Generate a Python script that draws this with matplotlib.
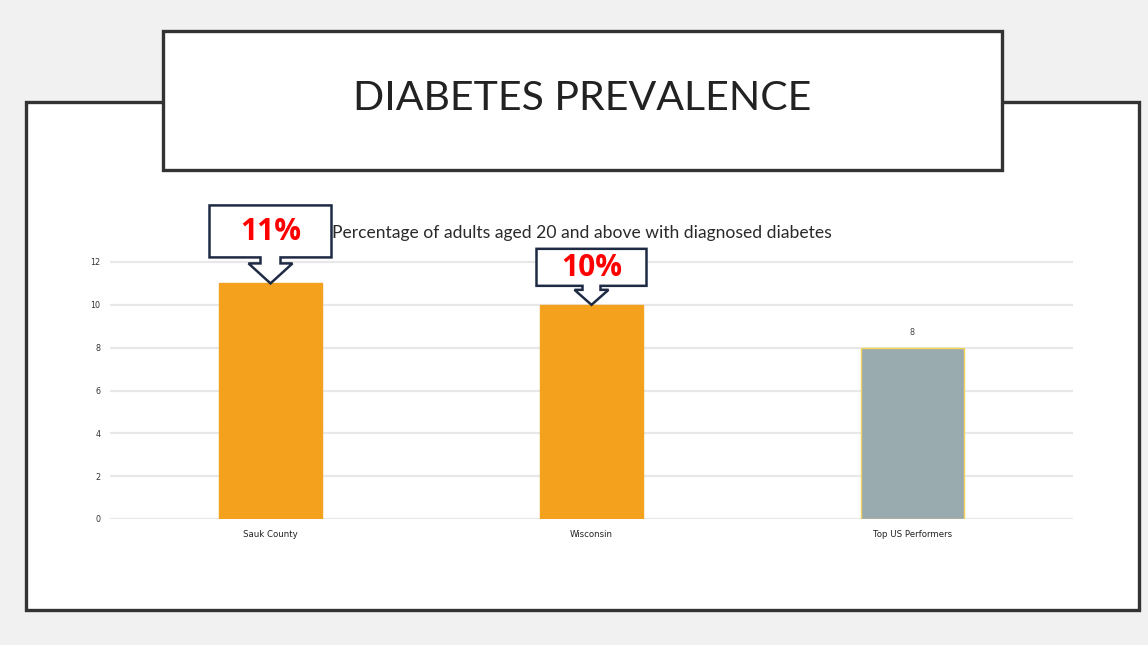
import matplotlib.pyplot as plt
from matplotlib.patches import Rectangle, Polygon

categories = ['Sauk County', 'Wisconsin', 'Top US Performers']
values = [11, 10, 8]
bar_colors = ['#F4A11D', '#F4A11D', '#9AABB0']
edge_colors = ['#F4A11D', '#F4A11D', '#F2D35A']
yticks = [0, 2, 4, 6, 8, 10, 12]
callout_text = ['11%', '10%']

W, H = 1148, 645
fig = plt.figure(figsize=(W / 100, H / 100), dpi=100)
fig.patch.set_facecolor('#f1f1f1')

# background layer in pixel coordinates (y grows downwards)
bg = fig.add_axes([0, 0, 1, 1])
bg.set_xlim(0, W)
bg.set_ylim(H, 0)
bg.axis('off')

bg.add_patch(Rectangle((26, 102), 1113, 508, facecolor='white',
                       edgecolor='#333333', lw=2.4, zorder=1))
bg.add_patch(Rectangle((163, 31), 839, 139, facecolor='white',
                       edgecolor='#333333', lw=2.4, zorder=2))
bg.text(582, 99, 'DIABETES PREVALENCE', ha='center', va='center',
        fontsize=29.5, family='Lato', color='#222222', zorder=3)
bg.text(582, 233, 'Percentage of adults aged 20 and above with diagnosed diabetes',
        ha='center', va='center', fontsize=12.6, family='Lato', color='#2a2a2a')

# bar chart
x0, x1, y0, y12 = 110, 1073, 519, 262
unit = (y0 - y12) / 12
ytop = 12.5
ax = fig.add_axes([x0 / W, (H - y0) / H, (x1 - x0) / W, ytop * unit / H])
ax.set_zorder(2)
ax.patch.set_alpha(0)
pos = list(range(len(categories)))
ax.bar(pos, values, width=0.32, color=bar_colors, edgecolor=edge_colors,
       linewidth=1, zorder=3)
ax.set_xlim(-0.5, 2.5)
ax.set_ylim(0, ytop)
ax.set_yticks(yticks)
ax.set_yticklabels([str(t) for t in yticks], fontsize=5.8, color='#333333')
ax.set_xticks(pos)
ax.set_xticklabels(categories, fontsize=6.2,
                   family=['Liberation Sans Narrow', 'DejaVu Sans'], color='#222222')
ax.tick_params(length=0)
ax.tick_params(axis='y', pad=7)
ax.tick_params(axis='x', pad=8)
ax.grid(axis='y', color='#e8e8e8', lw=1.6, zorder=0)
for s in ax.spines.values():
    s.set_visible(False)
ax.text(pos[2], values[2] + 0.5, str(values[2]), ha='center', va='bottom',
        fontsize=5.8, color='#444444')

# callouts pointing at the first two bars (sizes in pixels)
callout_geom = [
    dict(half=61, top=78, bot=26, shaft=10, neck=20, head=22),
    dict(half=55, top=56, bot=19, shaft=9, neck=15, head=17),
]
fig.canvas.draw()
for i, (label, g) in enumerate(zip(callout_text, callout_geom)):
    tx, ty = ax.transData.transform((pos[i], values[i]))
    ty = H - ty  # to top-down pixel coords
    pts = [
        (tx - g['half'], ty - g['top']),
        (tx + g['half'], ty - g['top']),
        (tx + g['half'], ty - g['bot']),
        (tx + g['shaft'], ty - g['bot']),
        (tx + g['shaft'], ty - g['neck']),
        (tx + g['head'], ty - g['neck']),
        (tx, ty),
        (tx - g['head'], ty - g['neck']),
        (tx - g['shaft'], ty - g['neck']),
        (tx - g['shaft'], ty - g['bot']),
        (tx - g['half'], ty - g['bot']),
    ]
    over = fig.add_axes([0, 0, 1, 1])
    over.set_xlim(0, W)
    over.set_ylim(H, 0)
    over.axis('off')
    over.set_zorder(5 + i)
    over.add_patch(Polygon(pts, closed=True, facecolor='white',
                           edgecolor='#1f2a44', lw=1.8, joinstyle='miter'))
    over.text(tx, ty - (g['top'] + g['bot']) / 2 + 1, label, ha='center',
              va='center', fontsize=21.5, fontweight='bold', family='Open Sans',
              color='#ff0000')

fig.savefig('out.png', dpi=100, facecolor=fig.get_facecolor())
